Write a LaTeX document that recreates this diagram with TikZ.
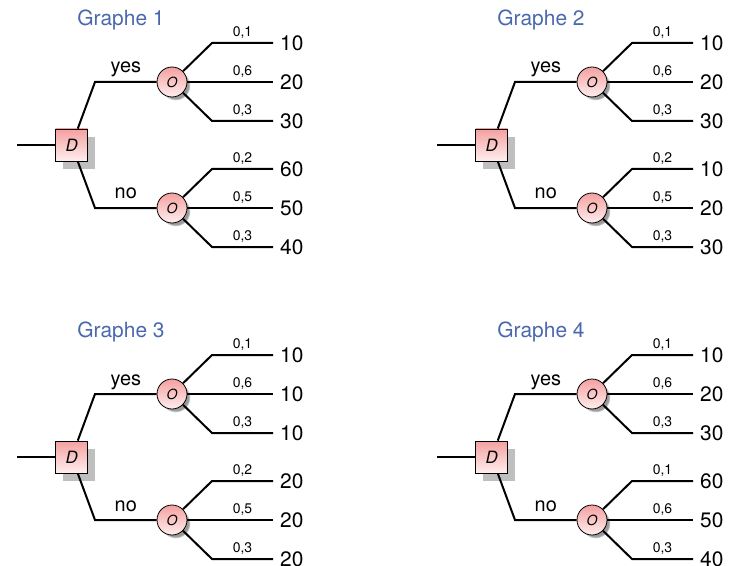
\documentclass[tikz,border=0pt]{standalone}
\usepackage{fontspec}
\setmainfont{TeX Gyre Heros}
\usetikzlibrary{shadows}
\definecolor{titleblue}{RGB}{74,104,173}
\definecolor{pinktop}{RGB}{244,160,160}
\definecolor{pinkbot}{RGB}{255,238,238}
\tikzset{
  edge/.style={line width=2bp},
  dnode/.style={rectangle, draw, line width=0.8bp, minimum size=32bp, inner sep=0pt,
    top color=pinktop, bottom color=pinkbot,
    drop shadow={shadow xshift=7.5bp, shadow yshift=-8bp, fill=black!25, opacity=1},
    font=\fontsize{17}{19}\selectfont\itshape},
  onode/.style={circle, draw, line width=0.8bp, minimum size=30bp, inner sep=0pt,
    top color=pinktop, bottom color=pinkbot,
    circular drop shadow={shadow xshift=3.5bp, shadow yshift=-3.5bp, shadow scale=1, opacity=0.8},
    font=\fontsize{14}{16}\selectfont\itshape},
  gtitle/.style={anchor=base, text=titleblue, font=\fontsize{21}{24}\selectfont},
  lbl/.style={anchor=base, yshift=9bp, inner sep=0pt, font=\fontsize{20}{24}\selectfont},
  prob/.style={anchor=base, yshift=6.5bp, inner sep=0pt, font=\fontsize{14}{16}\selectfont},
  val/.style={anchor=west, inner xsep=7bp, inner ysep=0pt, font=\fontsize{21}{24}\selectfont},
}
\begin{document}
\begin{tikzpicture}[x=1bp,y=-1bp]
\useasboundingbox (0,0) rectangle (735,566);
\foreach \g/\sx/\sy/\ua/\ub/\uc/\la/\lb/\lc/\pa/\pb/\pc in {
  1/0/0/10/20/30/60/50/40/2/5/3,
  2/420/0/10/20/30/10/20/30/2/5/3,
  3/0/312/10/10/10/20/20/20/2/5/3,
  4/420/312/10/20/30/60/50/40/1/6/3}
{
\begin{scope}[shift={(\sx,\sy)}]
  \node[gtitle] (t\g) at (121,25.5) {Graphe \g};
  \coordinate (in\g) at (17,145);
  \node[dnode] (d\g) at (71.7,145) {D};
  \node[onode] (oy\g) at (172,82) {O};
  \node[onode] (on\g) at (172,208) {O};
  \coordinate (ky\g) at (95,82);
  \coordinate (kn\g) at (95,208);
  \coordinate (ka\g) at (212,43);
  \coordinate (kb\g) at (212,82);
  \coordinate (kc\g) at (212,121);
  \coordinate (kd\g) at (212,169);
  \coordinate (ke\g) at (212,208);
  \coordinate (kf\g) at (212,247);
  \node[val] (va\g) at (273,43) {\ua};
  \node[val] (vb\g) at (273,82) {\ub};
  \node[val] (vc\g) at (273,121) {\uc};
  \node[val] (vd\g) at (273,169) {\la};
  \node[val] (ve\g) at (273,208) {\lb};
  \node[val] (vf\g) at (273,247) {\lc};
  \draw[edge] (in\g) -- (d\g);
  \draw[edge] (d\g) -- (ky\g) -- node[lbl] {yes} (oy\g);
  \draw[edge] (d\g) -- (kn\g) -- node[lbl] {no} (on\g);
  \draw[edge] (oy\g) -- (ka\g) -- node[prob] {0,1} (va\g);
  \draw[edge] (oy\g) -- (kb\g) -- node[prob] {0,6} (vb\g);
  \draw[edge] (oy\g) -- (kc\g) -- node[prob] {0,3} (vc\g);
  \draw[edge] (on\g) -- (kd\g) -- node[prob] {0,\pa} (vd\g);
  \draw[edge] (on\g) -- (ke\g) -- node[prob] {0,\pb} (ve\g);
  \draw[edge] (on\g) -- (kf\g) -- node[prob] {0,\pc} (vf\g);
\end{scope}
}
\end{tikzpicture}
\end{document}
